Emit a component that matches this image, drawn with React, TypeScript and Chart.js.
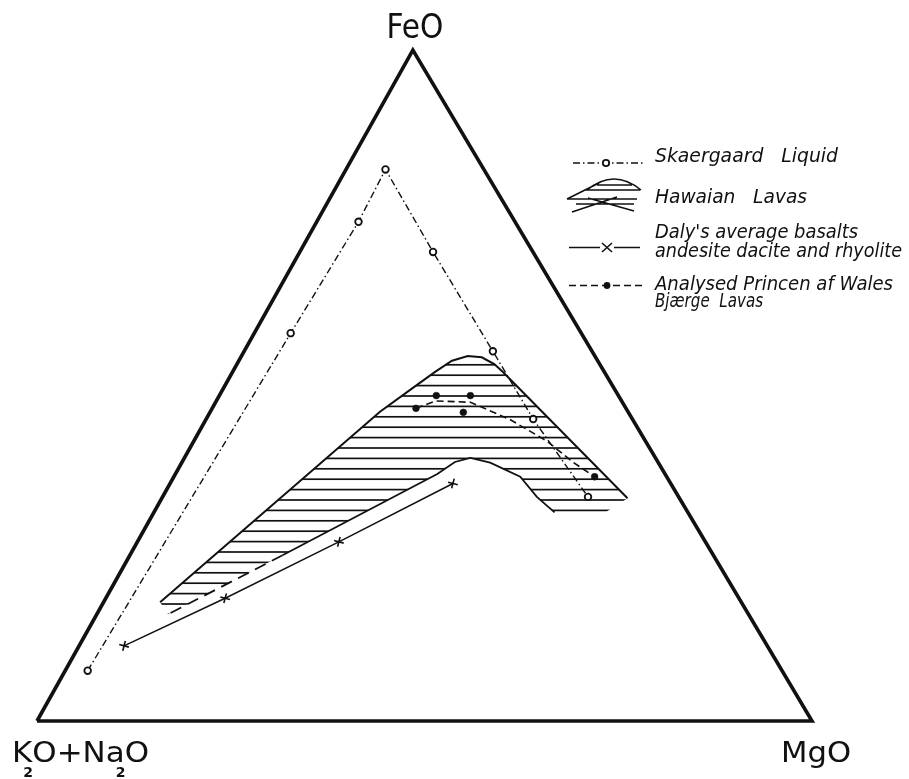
import React, { useEffect, useRef } from "react";
import { Chart, registerables } from "chart.js";

Chart.register(...registerables);

// Compositions in the FeO – MgO – (K2O+Na2O) triangle, weight %.
// Only FeO and MgO are listed; the alkalis make up the remainder.
const skaergaardFeO = [7.5, 57.8, 74.4, 82.2, 69.9, 55.1, 45.0, 33.4];
const skaergaardMgO = [2.9, 4.7, 5.4, 5.1, 17.2, 32.1, 42.2, 54.9];

const dalyFeO = [11.2, 18.3, 26.7, 35.4];
const dalyMgO = [5.8, 15.4, 26.0, 36.5];

const walesFeO = [46.6, 48.5, 48.5, 46.0, 36.4];
const walesMgO = [26.3, 28.0, 32.4, 32.7, 54.3];

const walesTrendFeO = [46.6, 47.7, 47.5, 44.9, 41.7, 38.6, 36.4];
const walesTrendMgO = [26.3, 28.3, 32.9, 39.3, 45.6, 50.4, 54.3];

// Hawaiian lavas field: upper rim, foot, lower rim and the broken tail
const hawaiiUpperFeO = [17.7, 46.1, 49.6, 52.0, 53.7, 54.4, 54.2, 53.2, 52.0, 33.2];
const hawaiiUpperMgO = [7.3, 21.9, 24.4, 26.1, 27.5, 29.2, 31.1, 33.2, 34.9, 60.1];
const hawaiiFootFeO = [30.1, 30.1];
const hawaiiFootMgO = [57.4, 52.4];
const hawaiiLowerFeO = [31.1, 33.4, 36.4, 38.5, 39.2, 38.6, 36.8, 24.7];
const hawaiiLowerMgO = [51.7, 48.3, 44.7, 39.8, 36.9, 35.2, 33.8, 19.7];
const hawaiiTailFeO = [24.7, 15.9];
const hawaiiTailMgO = [19.7, 9.2];

const cornerLabels = { top: "FeO", right: "MgO" };
const legendText = {
  skaergaard: "Skaergaard   Liquid",
  hawaii: "Hawaian   Lavas",
  daly1: "Daly's average basalts",
  daly2: "andesite dacite and rhyolite",
  wales1: "Analysed Princen af Wales",
  wales2: "Bjærge  Lavas",
};

const APEX_X = 48.5; // FeO apex sits at this % along the base
const INK = "#111";
const DASH_DOT = [7, 3, 1.5, 3];
const DASHED = [7, 4];
const FONT = "'DejaVu Sans', 'Liberation Sans', sans-serif";

const pt = (f: number, m: number) => ({ x: m + (f * APEX_X) / 100, y: f });
const series = (fs: number[], ms: number[]) => fs.map((f, i) => pt(f, ms[i]));

function hatchPattern(ctx: CanvasRenderingContext2D) {
  const tile = document.createElement("canvas");
  tile.width = 16;
  tile.height = 52;
  const g = tile.getContext("2d")!;
  g.strokeStyle = INK;
  g.lineWidth = 1.7;
  for (let k = 0; k < 5; k++) {
    const y = 32 - 10.4 * k;
    for (const yy of [y, y + 52, y - 52]) {
      g.beginPath();
      g.moveTo(0, yy);
      g.lineTo(16, yy);
      g.stroke();
    }
  }
  return ctx.createPattern(tile, "repeat");
}

function fitText(
  ctx: CanvasRenderingContext2D,
  text: string,
  x: number,
  y: number,
  width: number,
  font: string,
  align: "left" | "center" = "left"
) {
  ctx.font = font;
  const w = ctx.measureText(text).width;
  const s = width / w;
  ctx.save();
  ctx.translate(align === "center" ? x - width / 2 : x, y);
  ctx.scale(s, 1);
  ctx.textAlign = "left";
  ctx.fillText(text, 0, 0);
  ctx.restore();
}

const labelsPlugin = {
  id: "afmLabels",
  afterDraw(chart: any) {
    const ctx: CanvasRenderingContext2D = chart.ctx;
    const xs = chart.scales.x;
    const ys = chart.scales.y;
    const apex = pt(100, 0);
    const ax = xs.getPixelForValue(apex.x);
    const ay = ys.getPixelForValue(apex.y);
    const lx = xs.getPixelForValue(0);
    const rx = xs.getPixelForValue(100);
    const by = ys.getPixelForValue(0);

    ctx.save();
    ctx.fillStyle = INK;
    ctx.textBaseline = "alphabetic";

    // corner labels
    fitText(ctx, cornerLabels.top, ax + 2, ay - 12, 57, `33px ${FONT}`, "center");
    fitText(ctx, cornerLabels.right, rx + 4, by + 41, 70, `28px ${FONT}`, "center");

    // K2O + Na2O with the small 2 set below each oxide
    const main = `28px ${FONT}`;
    ctx.font = main;
    const parts = ["K", "O+Na", "O"];
    const widths = parts.map((p) => ctx.measureText(p).width);
    const total = widths.reduce((a, b) => a + b, 0);
    const s = 137 / total;
    let x = lx - 25;
    const base = by + 41;
    parts.forEach((p, i) => {
      ctx.save();
      ctx.translate(x, base);
      ctx.scale(s, 1);
      ctx.font = main;
      ctx.fillText(p, 0, 0);
      ctx.restore();
      if (i < 2) {
        ctx.save();
        ctx.font = `bold 14px ${FONT}`;
        ctx.fillText("2", x + widths[i] * s - 9, base + 15);
        ctx.restore();
      }
      x += widths[i] * s;
    });

    // legend
    const lf = `italic 19px ${FONT}`;
    ctx.lineCap = "butt";
    ctx.strokeStyle = INK;

    // Skaergaard liquid
    ctx.lineWidth = 1.5;
    ctx.setLineDash(DASH_DOT);
    ctx.beginPath();
    ctx.moveTo(573, 163);
    ctx.lineTo(643, 163);
    ctx.stroke();
    ctx.setLineDash([]);
    ctx.beginPath();
    ctx.arc(606, 163, 3.2, 0, Math.PI * 2);
    ctx.fillStyle = "#fff";
    ctx.fill();
    ctx.lineWidth = 1.8;
    ctx.stroke();
    ctx.fillStyle = INK;
    fitText(ctx, legendText.skaergaard, 655, 162, 183, lf);

    // Hawaiian lavas sketch
    ctx.lineWidth = 1.6;
    ctx.beginPath();
    ctx.moveTo(587, 190);
    ctx.quadraticCurveTo(614, 168, 641, 190);
    ctx.moveTo(585, 190);
    ctx.lineTo(640, 190);
    ctx.moveTo(597, 185);
    ctx.lineTo(632, 185);
    ctx.moveTo(567, 199);
    ctx.lineTo(599, 183);
    ctx.moveTo(567, 199);
    ctx.lineTo(637, 199);
    ctx.moveTo(576, 204);
    ctx.lineTo(634, 204);
    ctx.moveTo(572, 212);
    ctx.lineTo(617, 197);
    ctx.moveTo(588, 198);
    ctx.lineTo(634, 211);
    ctx.stroke();
    fitText(ctx, legendText.hawaii, 655, 203, 152, lf);

    // Daly's averages
    ctx.lineWidth = 1.6;
    ctx.beginPath();
    ctx.moveTo(569, 247.5);
    ctx.lineTo(640, 247.5);
    ctx.stroke();
    ctx.fillStyle = "#fff";
    ctx.fillRect(600, 242, 14, 11);
    ctx.beginPath();
    ctx.moveTo(602, 243);
    ctx.lineTo(612, 252);
    ctx.moveTo(602, 252);
    ctx.lineTo(612, 243);
    ctx.stroke();
    ctx.fillStyle = INK;
    fitText(ctx, legendText.daly1, 655, 238, 203, lf);
    fitText(ctx, legendText.daly2, 655, 257, 247, lf);

    // Princen af Wales Bjærge
    ctx.lineWidth = 1.6;
    ctx.setLineDash(DASHED);
    ctx.beginPath();
    ctx.moveTo(569, 285.5);
    ctx.lineTo(643, 285.5);
    ctx.stroke();
    ctx.setLineDash([]);
    ctx.beginPath();
    ctx.arc(607, 285.5, 3.4, 0, Math.PI * 2);
    ctx.fill();
    fitText(ctx, legendText.wales1, 655, 290, 238, lf);
    fitText(ctx, legendText.wales2, 655, 307, 108, lf);

    ctx.restore();
  },
};

export default function App() {
  const ref = useRef<HTMLCanvasElement | null>(null);

  useEffect(() => {
    const canvas = ref.current;
    if (!canvas) return;
    const ctx = canvas.getContext("2d")!;
    const pattern = hatchPattern(ctx);

    const lineSet = (data: any[], extra: any) => ({
      data,
      showLine: true,
      pointRadius: 0,
      borderColor: INK,
      backgroundColor: INK,
      borderWidth: 1.6,
      clip: false,
      ...extra,
    });

    const hawaiiField = [
      ...series(hawaiiUpperFeO, hawaiiUpperMgO),
      ...series(hawaiiFootFeO, hawaiiFootMgO),
      ...series(hawaiiLowerFeO, hawaiiLowerMgO),
      ...series(hawaiiTailFeO, hawaiiTailMgO).slice(1),
    ];
    hawaiiField.push(hawaiiField[0]);

    const chart = new Chart(canvas, {
      type: "scatter",
      data: {
        datasets: [
          // Princen af Wales Bjærge analyses
          {
            label: "Analysed Princen af Wales Bjærge Lavas",
            data: series(walesFeO, walesMgO),
            showLine: false,
            pointRadius: 3.4,
            pointBackgroundColor: INK,
            pointBorderColor: INK,
            pointBorderWidth: 0.5,
            clip: false,
          },
          lineSet(series(walesTrendFeO, walesTrendMgO), {
            label: "Princen af Wales trend",
            borderDash: DASHED,
            borderWidth: 1.6,
          }),
          lineSet(series(dalyFeO, dalyMgO), {
            label: "Daly's average basalts andesite dacite and rhyolite",
            borderWidth: 1.5,
            pointRadius: 5,
            pointStyle: "cross",
            rotation: 15,
            pointBorderColor: INK,
            pointBorderWidth: 1.6,
          }),
          lineSet(series(skaergaardFeO, skaergaardMgO), {
            label: "Skaergaard Liquid",
            borderDash: DASH_DOT,
            borderWidth: 1.4,
            pointRadius: 3.3,
            pointStyle: "circle",
            pointBackgroundColor: "#fff",
            pointBorderColor: INK,
            pointBorderWidth: 1.8,
          }),
          lineSet(series(hawaiiUpperFeO, hawaiiUpperMgO), { label: "Hawaian Lavas rim", borderWidth: 2 }),
          lineSet(series(hawaiiLowerFeO, hawaiiLowerMgO), { label: "Hawaian Lavas base", borderWidth: 1.8 }),
          lineSet(series(hawaiiTailFeO, hawaiiTailMgO), {
            label: "Hawaian Lavas base (broken)",
            borderWidth: 1.8,
            borderDash: [12, 7],
          }),
          lineSet([pt(0, 0), pt(0, 100), pt(100, 0), pt(0, 0)], {
            label: "triangle",
            borderWidth: 3.6,
            borderJoinStyle: "miter",
          }),
          lineSet(hawaiiField, {
            label: "Hawaian Lavas field",
            borderWidth: 0,
            fill: "shape",
            backgroundColor: pattern,
          }),
        ],
      },
      options: {
        animation: false,
        responsive: false,
        devicePixelRatio: 1,
        layout: { padding: { left: 37, right: 97, top: 50, bottom: 58 } },
        scales: {
          x: { type: "linear", min: 0, max: 100, display: false },
          y: { type: "linear", min: 0, max: 100, display: false },
        },
        plugins: {
          legend: { display: false },
          tooltip: { enabled: false },
        },
      },
      plugins: [labelsPlugin],
    });
    return () => chart.destroy();
  }, []);

  return (
    <div style={{ position: "absolute", left: 0, top: 0, width: 909, height: 779, background: "#fff" }}>
      <canvas ref={ref} width={909} height={779} style={{ width: 909, height: 779, display: "block" }} />
    </div>
  );
}
